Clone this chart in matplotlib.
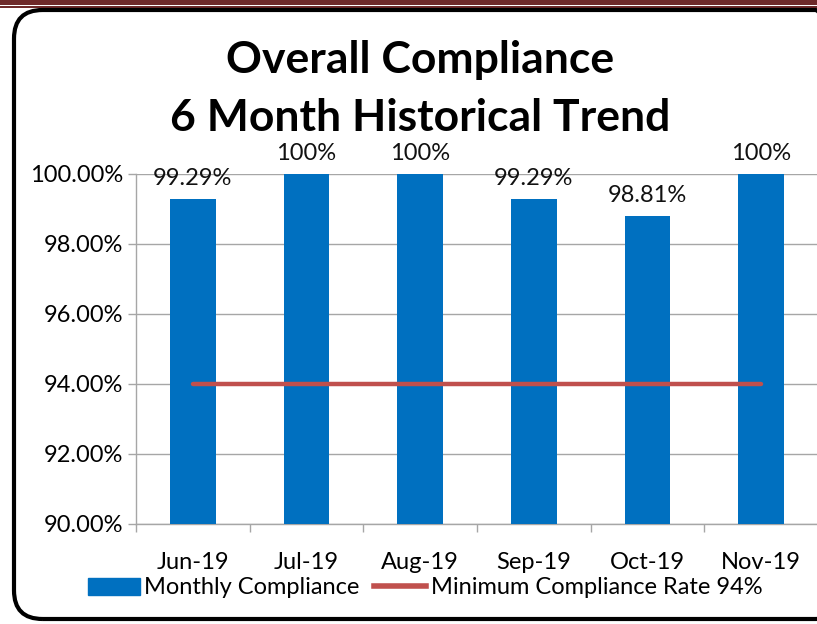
import matplotlib
matplotlib.use("Agg")
import matplotlib.pyplot as plt
import matplotlib.patches as mpatches
from matplotlib.lines import Line2D
import numpy as np

months = ["Jun-19", "Jul-19", "Aug-19", "Sep-19", "Oct-19", "Nov-19"]
compliance = [99.29, 100, 100, 99.29, 98.81, 100]
labels = ["99.29%", "100%", "100%", "99.29%", "98.81%", "100%"]
minimum = [94, 94, 94, 94, 94, 94]

plt.rcParams['font.family'] = ['Lato', 'DejaVu Sans']

W, H = 817, 624
fig = plt.figure(figsize=(W / 100, H / 100), dpi=100)
fig.patch.set_facecolor("white")

#
# Top band and rounded border.
#

fig.add_artist(mpatches.Rectangle((0, 1 - 5 / H), 1, 5 / H, transform=fig.transFigure,
                                  facecolor="#6E2A2A", edgecolor="none"))
fig.add_artist(mpatches.Rectangle((0, 1 - 7.5 / H), 1, 1.5 / H, transform=fig.transFigure,
                                  facecolor="#6E2A2A", edgecolor="none"))
box = mpatches.FancyBboxPatch((14 / W, 5 / H), 830 / W, 609 / H,
                              boxstyle="round,pad=0,rounding_size=0.035",
                              transform=fig.transFigure, facecolor="none",
                              edgecolor="black", linewidth=3, mutation_aspect=W / H)
fig.add_artist(box)

#
# Chart.
#

fs = 17
ax = fig.add_axes([136 / W, 1 - 524 / H, 682 / W, 350 / H])
x = np.arange(len(months))
ax.bar(x, compliance, width=0.4, color="#0070C0", bottom=0, zorder=3)
ax.plot(x, minimum, color="#C0504D", linewidth=3.2, zorder=4, solid_capstyle="round")

for xi, v, lab in zip(x, compliance, labels):
    ax.annotate(lab, (xi, v), xytext=(0, 7), textcoords="offset points",
                ha="center", va="bottom", fontsize=fs, color="#111111")

ax.set_xlim(-0.5, len(months) - 0.5)
ax.set_ylim(90, 100)
ax.set_yticks(np.arange(90, 100.1, 2))
ax.set_yticklabels(["%.2f%%" % t for t in np.arange(90, 100.1, 2)], fontsize=fs)
ax.set_xticks(x)
ax.set_xticklabels(months, fontsize=fs)
ax.set_xticks(np.arange(-0.5, len(months), 1), minor=True)
ax.tick_params(axis="x", which="major", length=0, pad=20)
ax.tick_params(axis="x", which="minor", length=6, color="#A6A6A6", width=1)
ax.tick_params(axis="y", length=6, color="#A6A6A6", width=1, pad=3)
ax.grid(axis="y", color="#A6A6A6", linewidth=1, zorder=0)
for s in ["top", "right"]:
    ax.spines[s].set_visible(False)
for s in ["left", "bottom"]:
    ax.spines[s].set_color("#A6A6A6")
    ax.spines[s].set_linewidth(1)
ax.set_facecolor("none")

fig.text(420 / W, 1 - 60 / H, "Overall Compliance", ha="center", va="center",
         fontsize=32, fontweight="bold")
fig.text(420 / W, 1 - 118 / H, "6 Month Historical Trend", ha="center", va="center",
         fontsize=32, fontweight="bold")

handles = [mpatches.Patch(color="#0070C0", label="Monthly Compliance"),
           Line2D([0], [0], color="#C0504D", linewidth=4, label="Minimum Compliance Rate 94%")]
fig.legend(handles=handles, loc="center", bbox_to_anchor=(425 / W, 1 - 588 / H), ncol=2,
           frameon=False, fontsize=fs, handlelength=2.2, handletextpad=0.2,
           columnspacing=0.6, borderpad=0)

fig.savefig("out.png", dpi=100)
